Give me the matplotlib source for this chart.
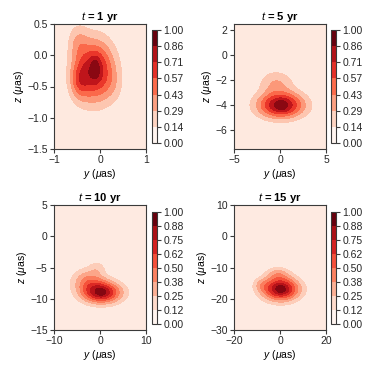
import numpy as np
import matplotlib
matplotlib.use("Agg")
import matplotlib.pyplot as plt
from matplotlib.colors import BoundaryNorm
from matplotlib.cm import ScalarMappable

plt.rcParams["font.family"] = ["Liberation Sans", "DejaVu Sans"]
plt.rcParams["mathtext.fontset"] = "custom"
plt.rcParams["mathtext.rm"] = "Liberation Sans"
plt.rcParams["mathtext.it"] = "Liberation Sans:italic"
plt.rcParams["mathtext.bf"] = "Liberation Sans:bold:italic"
plt.rcParams["font.size"] = 7.5
plt.rcParams["axes.edgecolor"] = "#3a3a3a"
plt.rcParams["xtick.color"] = "#3a3a3a"
plt.rcParams["ytick.color"] = "#3a3a3a"
plt.rcParams["xtick.labelcolor"] = "#262626"
plt.rcParams["ytick.labelcolor"] = "#262626"

# panel titles and axis ranges
titles = ["1", "5", "10", "15"]
y_lims = [(-1, 1), (-5, 5), (-10, 10), (-20, 20)]
z_lims = [(-1.5, 0.5), (-7.5, 2.5), (-15, 5), (-30, 10)]
y_ticks = [[-1, 0, 1], [-5, 0, 5], [-10, 0, 10], [-20, 0, 20]]
z_ticks = [[-1.5, -1.0, -0.5, 0.0, 0.5], [-6, -4, -2, 0, 2],
           [-15, -10, -5, 0, 5], [-30, -20, -10, 0, 10]]
n_levels = [8, 8, 9, 9]

# blobs making up each density map
blob_y = [[-0.12, -0.45, -0.1, -0.48, 0.3],
          [0.1, 0.15, -0.4],
          [0.3, 0.3, -2.5, -0.6],
          [0.3, 0.3, -1.0, -8.0]]
blob_z = [[-0.25, -0.42, -0.2, 0.22, -0.5],
          [-4.0, -4.05, -2.2],
          [-9.0, -9.0, -7.0, -5.0],
          [-16.9, -16.9, -12.0, -15.5]]
blob_sy = [[0.3, 0.14, 0.07, 0.15, 0.15],
           [1.75, 0.4, 1.3],
           [3.0, 0.6, 2.5, 1.3],
           [5.6, 1.2, 3.5, 2.5]]
blob_sz = [[0.34, 0.2, 0.13, 0.2, 0.2],
           [0.72, 0.3, 0.7],
           [1.2, 0.4, 1.3, 0.8],
           [2.6, 0.8, 1.6, 1.5]]
blob_w = [[1.0, 0.35, 0.2, 0.25, 0.1],
          [1.0, 0.1, 0.3],
          [1.0, 0.1, 0.4, 0.15],
          [1.0, 0.1, 0.25, 0.15]]

fig = plt.figure(figsize=(3.74, 3.74), dpi=100)
ax_boxes = [(54, 24), (234, 24), (54, 205), (234, 205)]
cb_boxes = [(152, 30, 113), (331, 30, 113), (152, 212, 112), (331, 212, 112)]

for i in range(4):
    x0, y0 = ax_boxes[i]
    ax = fig.add_axes([x0 / 374, 1 - (y0 + 125) / 374, 92 / 374, 125 / 374])
    yy = np.linspace(y_lims[i][0], y_lims[i][1], 300)
    zz = np.linspace(z_lims[i][0], z_lims[i][1], 300)
    Y, Z = np.meshgrid(yy, zz)
    D = np.zeros_like(Y)
    for by, bz, sy, sz, w in zip(blob_y[i], blob_z[i], blob_sy[i], blob_sz[i], blob_w[i]):
        D += w * np.exp(-0.5 * ((Y - by) / sy) ** 2 - 0.5 * ((Z - bz) / sz) ** 2)
    D = D / D.max()
    levels = np.linspace(0, 1, n_levels[i])
    ax.contourf(Y, Z, D, levels=levels, cmap="Reds")
    ax.set_xlim(y_lims[i])
    ax.set_ylim(z_lims[i])
    ax.set_xticks(y_ticks[i])
    ax.set_yticks(z_ticks[i])
    ax.tick_params(length=3, width=0.8, pad=1.5)
    ax.set_xlabel(r"$y$ ($\mu$as)", labelpad=1)
    ax.set_ylabel(r"$z$ ($\mu$as)", labelpad=1)
    ax.set_title(r"$t$ = " + titles[i] + " yr", fontweight="bold", fontsize=8, pad=3)

    cx, cy, ch = cb_boxes[i]
    cax = fig.add_axes([cx / 374, 1 - (cy + ch) / 374, 5 / 374, ch / 374])
    sm = ScalarMappable(norm=BoundaryNorm(levels, 256), cmap="Reds")
    cb = fig.colorbar(sm, cax=cax, ticks=levels)
    cb.ax.set_yticklabels(["%.2f" % v for v in levels])
    cb.ax.tick_params(length=3, width=0.8, pad=1.5)
    cb.outline.set_edgecolor("#3a3a3a")

plt.savefig("out.png", dpi=100)
